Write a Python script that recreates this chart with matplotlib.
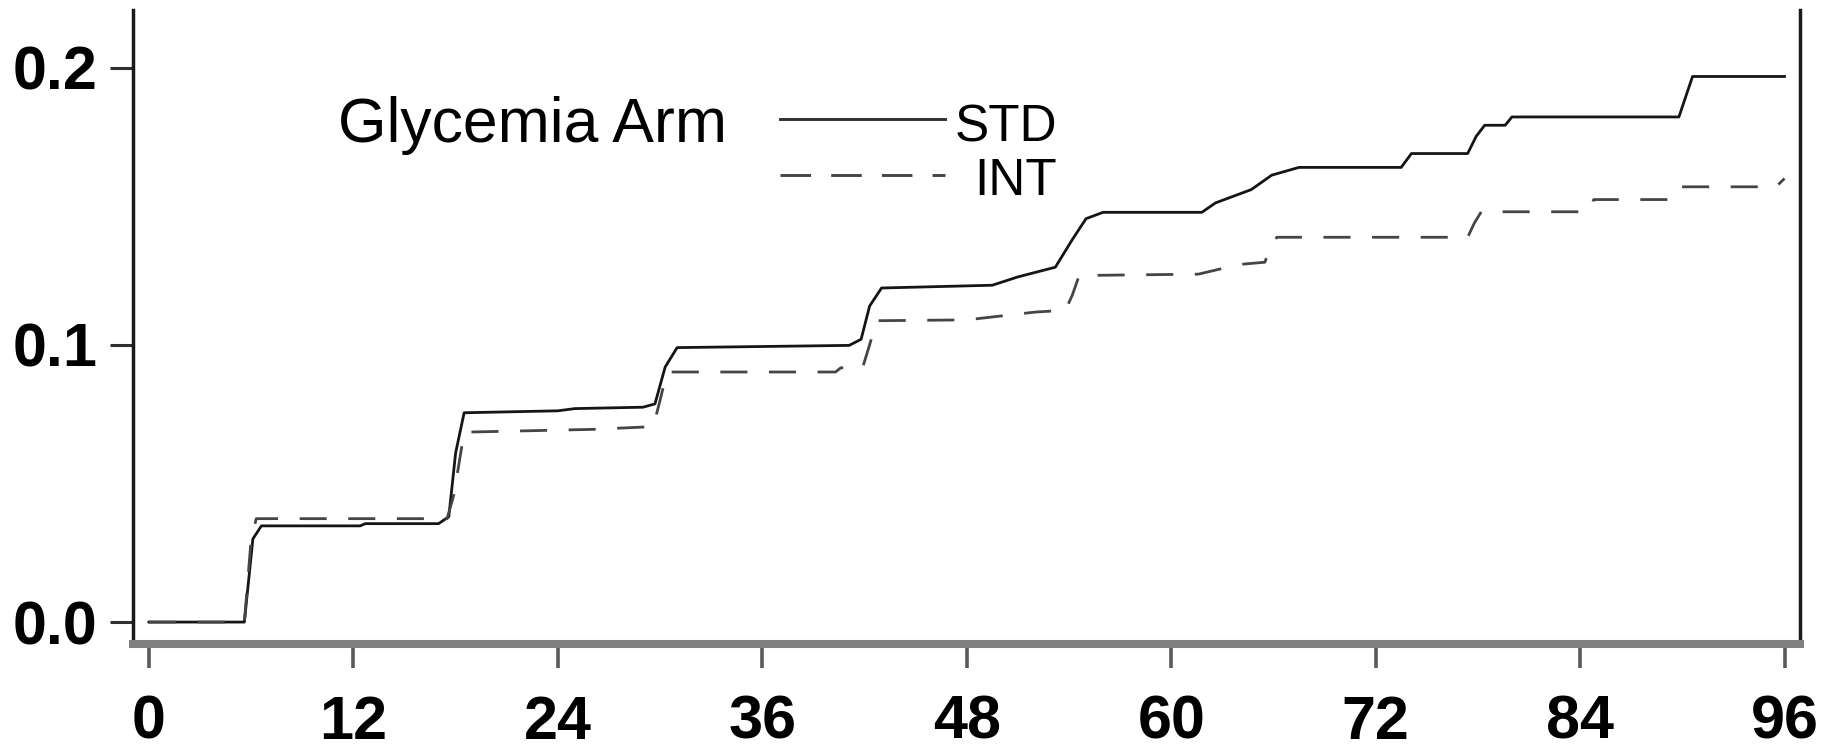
import matplotlib
matplotlib.use("Agg")
import matplotlib.pyplot as plt
from matplotlib.lines import Line2D

plt.rcParams["font.family"] = ["Liberation Sans", "DejaVu Sans"]
plt.rcParams["lines.scale_dashes"] = False

# --- cumulative incidence (months, proportion) ---
std_t = [0, 5.6, 6.1, 6.6, 12.4, 12.7, 17.0, 17.6, 18.0, 18.5, 24.0, 25.0, 29.0, 29.7,
         30.3, 31.0, 41.1, 41.8, 42.3, 43.0, 49.5, 51.0, 53.2, 54.2, 55.0, 56.0,
         61.8, 62.6, 64.7, 65.9, 67.5, 73.5, 74.1, 77.4, 77.9, 78.4, 79.6, 80.0,
         89.8, 90.6, 96.0]
std_v = [0.0, 0.0, 0.030, 0.0347, 0.0347, 0.0355, 0.0355, 0.038, 0.061, 0.0755, 0.0762,
         0.0770, 0.0775, 0.0787, 0.092, 0.0990, 0.0998, 0.102, 0.114, 0.1205, 0.1215,
         0.1245, 0.128, 0.138, 0.1455, 0.1478, 0.1478, 0.1512, 0.1560, 0.1612, 0.1640,
         0.1640, 0.1690, 0.1690, 0.1752, 0.1792, 0.1792, 0.1822, 0.1822, 0.1968, 0.1968]

int_t = [0, 5.6, 6.0, 6.3, 17.5, 17.9, 18.5, 26.0, 29.6, 30.0, 30.4, 40.3, 40.6, 41.9,
         42.3, 42.7, 48.0, 52.0, 53.8, 54.2, 54.6, 61.6, 64.0, 65.5, 65.8, 66.2, 77.4,
         77.8, 78.2, 84.5, 84.8, 89.3, 89.8, 95.5, 96.0]
int_v = [0.0, 0.0, 0.030, 0.0373, 0.0373, 0.046, 0.0685, 0.0695, 0.0705, 0.080, 0.0902,
         0.0902, 0.0917, 0.0920, 0.100, 0.1087, 0.1090, 0.1118, 0.1125, 0.118, 0.1250,
         0.1255, 0.1290, 0.1298, 0.135, 0.1388, 0.1388, 0.144, 0.1480, 0.1480, 0.1524,
         0.1524, 0.1570, 0.1570, 0.1600]

x_ticks = [0, 12, 24, 36, 48, 60, 72, 84, 96]
y_ticks = [0.0, 0.1, 0.2]
y_labels = ["0.0", "0.1", "0.2"]

legend_title = "Glycemia Arm"
series_names = ["STD", "INT"]

DASH = (0, (19.5, 15.5))

fig = plt.figure(figsize=(18.31, 7.53), dpi=100)
ax = fig.add_axes([0.0726, 0.1448, 0.9104, 0.842])

ax.plot(std_t, std_v, color="#151515", lw=2.0, solid_joinstyle="round")
ax.plot(int_t, int_v, color="#454545", lw=2.0, linestyle=DASH)

ax.set_xlim(-0.94, 96.9)
ax.set_ylim(-0.0079, 0.2208)
ax.set_xticks(x_ticks)
ax.set_yticks(y_ticks)
ax.set_yticklabels(y_labels)

for lab in ax.get_xticklabels() + ax.get_yticklabels():
    lab.set_fontweight("bold")
    lab.set_fontsize(44)

ax.tick_params(axis="x", length=17, width=2.6, color="#5a5a5a", pad=19.5)
ax.tick_params(axis="y", length=16.5, width=2.2, color="#303030", pad=9)

ax.spines["top"].set_visible(False)
ax.spines["left"].set_color("#1a1a1a")
ax.spines["left"].set_linewidth(2.5)
ax.spines["right"].set_color("#1a1a1a")
ax.spines["right"].set_linewidth(2.5)
ax.spines["bottom"].set_color("#808080")
ax.spines["bottom"].set_linewidth(5.8)

# --- hand-made legend ---
ax.text(0.123, 0.7923, legend_title, transform=ax.transAxes, fontsize=45,
        ha="left", va="baseline")
ax.add_line(Line2D([0.388, 0.487], [0.8276, 0.8276], transform=ax.transAxes,
                   color="#303030", lw=2.1))
ax.add_line(Line2D([0.388, 0.487], [0.7397, 0.7397], transform=ax.transAxes,
                   color="#454545", lw=2.1, linestyle=(0, (22, 14.5))))
ax.text(0.5543, 0.7923, series_names[0], transform=ax.transAxes, fontsize=37,
        ha="right", va="baseline")
ax.text(0.5543, 0.7082, series_names[1], transform=ax.transAxes, fontsize=37,
        ha="right", va="baseline")

fig.savefig("out.png", dpi=100)
